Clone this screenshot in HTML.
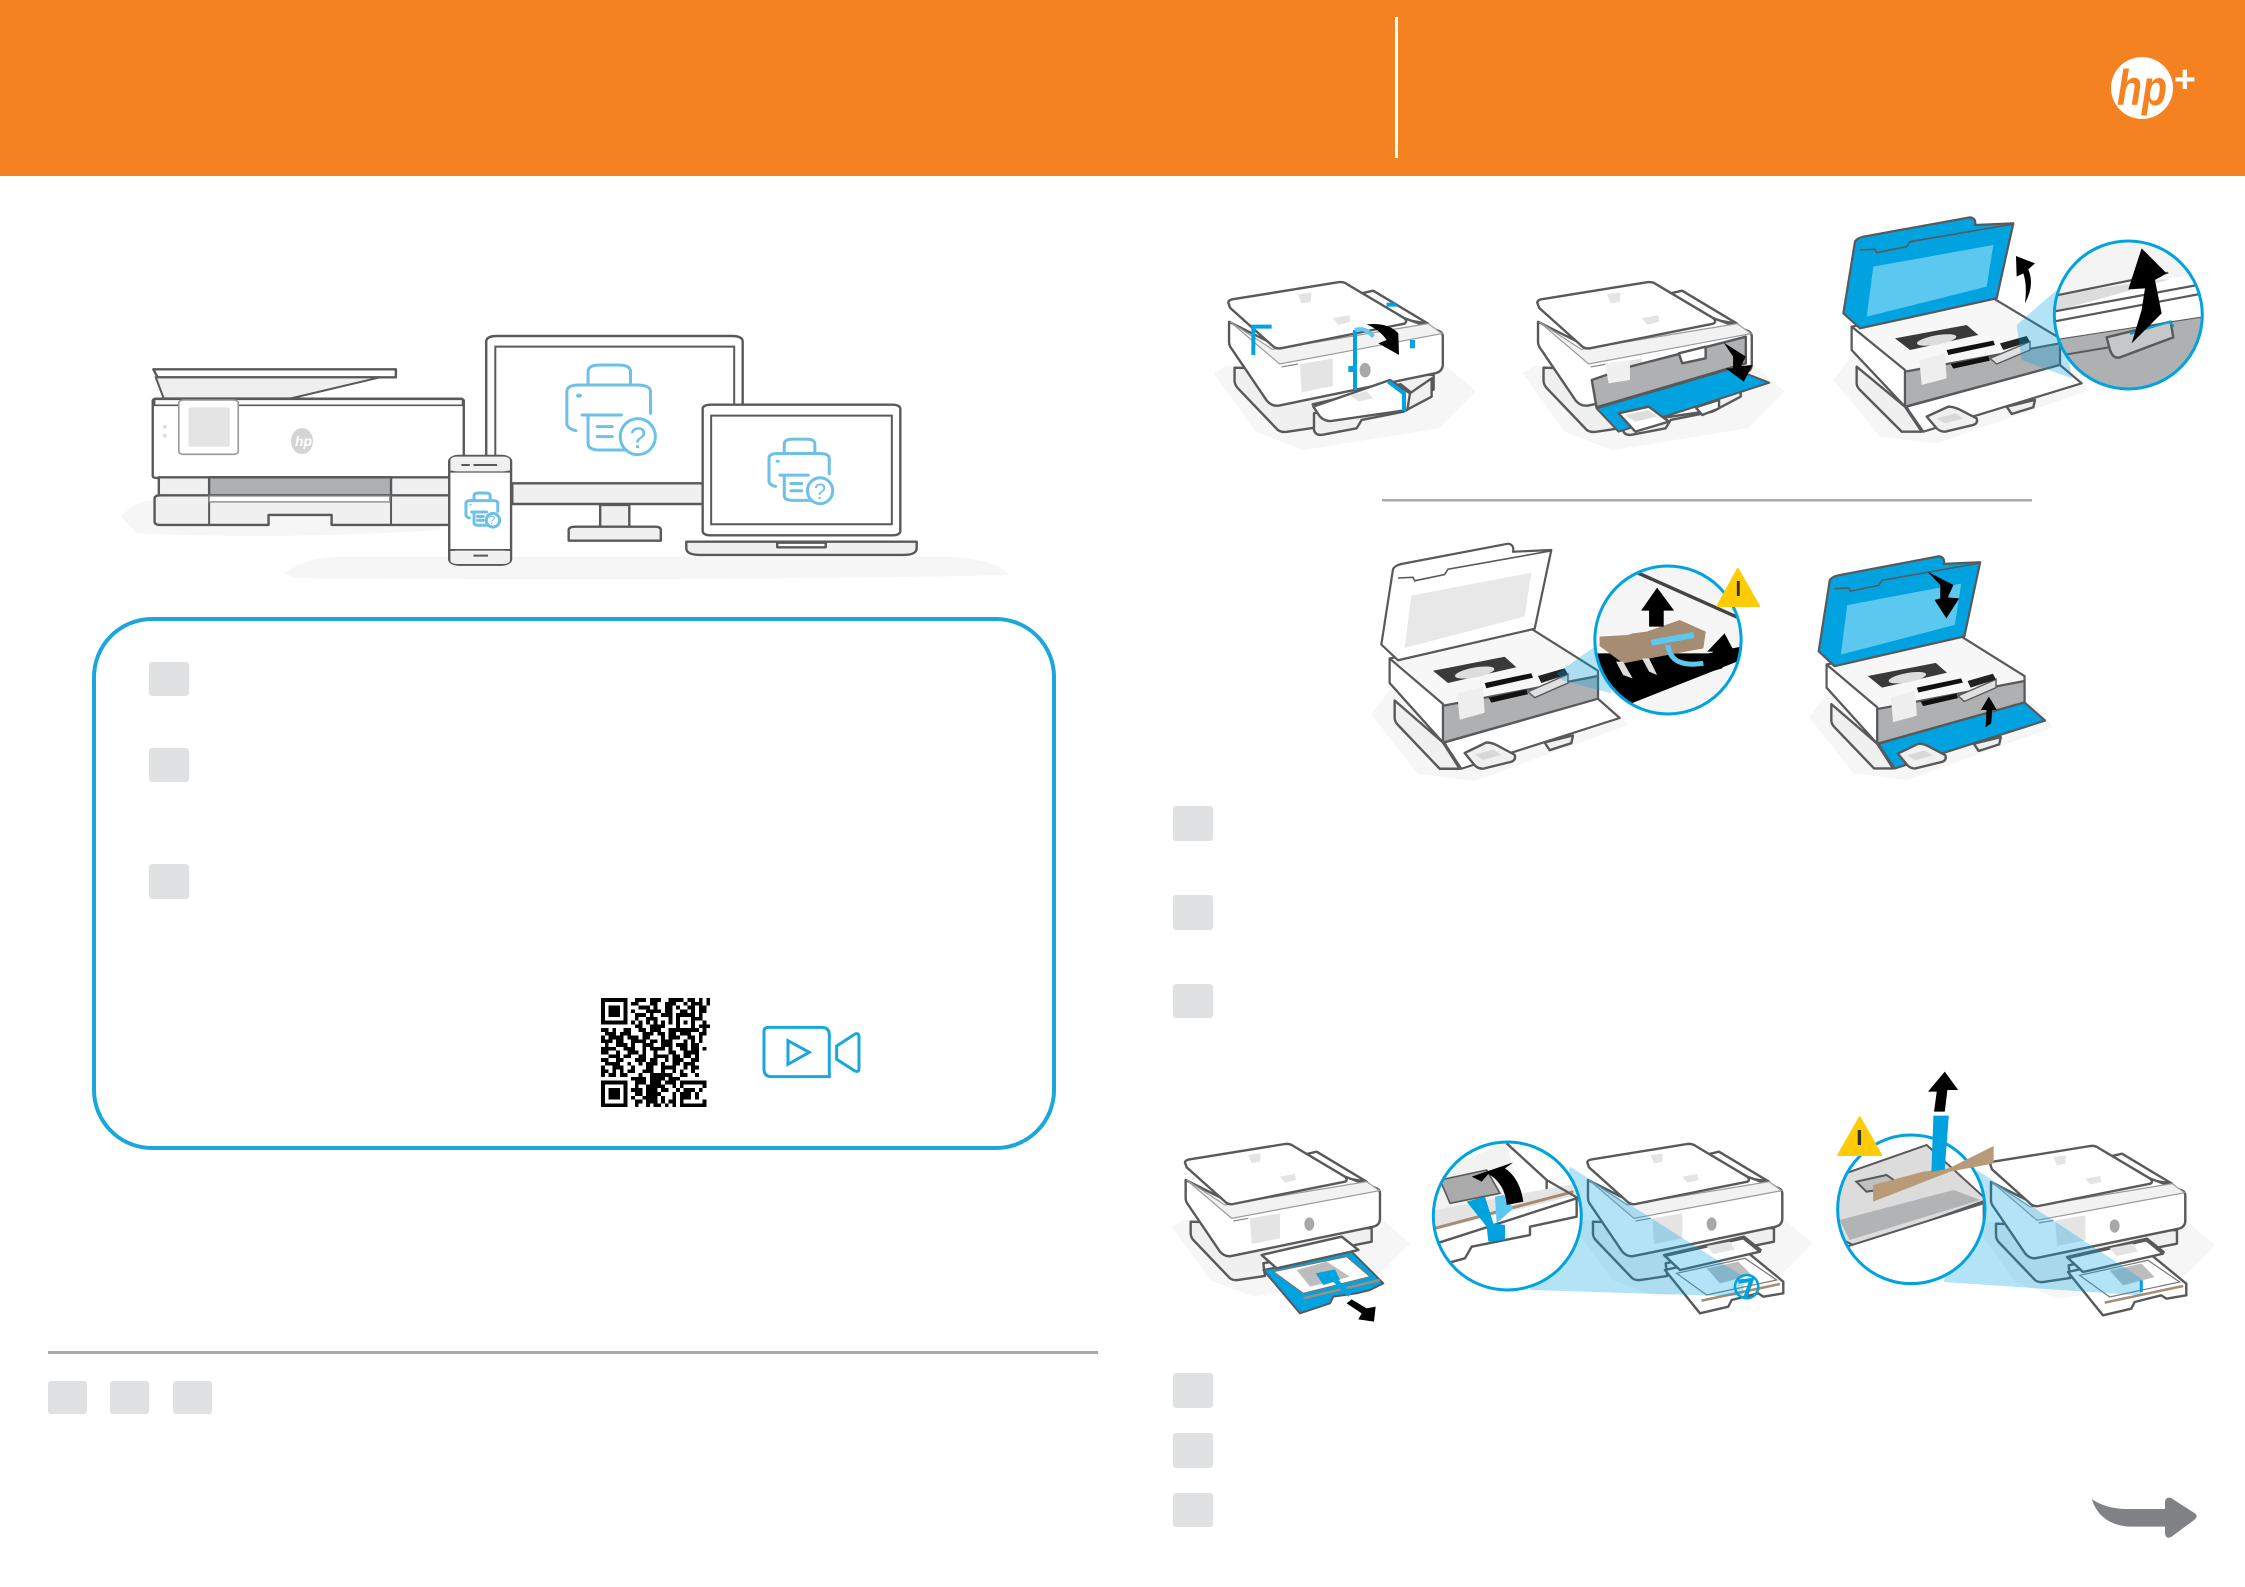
<!DOCTYPE html>
<html lang="en">
<head>
<meta charset="utf-8">
<title>Printer setup</title>
<style>
html,body{margin:0;padding:0;background:#fff;width:2245px;height:1587px;overflow:hidden}
svg{display:block}
svg *{vector-effect:non-scaling-stroke}
.k{fill:#fff;stroke:#58595b;stroke-width:2.4;stroke-linejoin:round}
.g{fill:#f0f0f0;stroke:#58595b;stroke-width:2.4;stroke-linejoin:round}
.d{fill:#aeb0b2;stroke:#58595b;stroke-width:2.4;stroke-linejoin:round}
.b{fill:#00a3e0;stroke:#58595b;stroke-width:2;stroke-linejoin:round}
.gl{fill:#5cc8f0;stroke:none}
.s{fill:#f6f6f6;stroke:none}
.m{fill:#e4e4e4;stroke:none}
.t{fill:none;stroke:#00a3e0;stroke-width:4}
.z{fill:#000;stroke:none}
.w{fill:#00a3e0;fill-opacity:.3;stroke:none}
.o{fill:none;stroke:#1ba7dd;stroke-width:3;}
.q{fill:none;stroke:#6dc1e8;stroke-width:3;stroke-linecap:round;stroke-linejoin:round}
.sq{fill:#dfe1e2}
.u{stroke:#58595b;stroke-width:2.2;stroke-linejoin:round}
</style>
</head>
<body>
<svg width="2245" height="1587" viewBox="0 0 2245 1587" xmlns="http://www.w3.org/2000/svg">
<defs>
  <clipPath id="c2"><circle cx="895" cy="315" r="222"/></clipPath>
  <clipPath id="c3"><ellipse cx="695" cy="360" rx="155" ry="222"/></clipPath>
  <clipPath id="c4a"><circle cx="232" cy="258" r="222"/></clipPath>
  <clipPath id="c4b"><ellipse cx="1122" cy="478" rx="110" ry="223"/></clipPath>

  <g id="pq">
    <path class="q" d="M805,250V215Q805,195 825,195H855Q875,195 875,215V250"/>
    <path class="q" d="M785,392Q770,385 770,370V275Q770,255 790,255H885Q908,255 908,275V340"/>
    <path class="q" d="M795,345H860M805,345V430Q805,450 825,450H868M820,380H845M820,410H845"/>
    <ellipse class="q" cx="887" cy="410" rx="29" ry="54"/>
    <ellipse cx="790" cy="287" rx="5" ry="6" fill="#6dc1e8"/>
  </g>

  <!-- closed printer, 3x coordinates -->
  <g id="c">
    <polygon class="s" points="5,290 40,270 620,255 720,340 620,440 250,500 120,450"/>
    <path class="g" d="M62,275V310Q62,320 70,330L180,445Q190,452 205,450L285,438L280,400L605,335V295L520,290Z"/>
    <polygon class="k" points="410,72 440,65 590,155 530,145"/>
    <path class="k" d="M47,150V205Q47,215 55,225L150,365Q165,382 185,378L610,290Q630,285 630,265V190Q630,180 620,175L525,140L190,222Z"/>
    <polygon fill="#f2f2f2" stroke="#9a9a9a" stroke-width="1.2" points="50,150 165,225 590,155 628,182 185,265"/>
    <polygon class="m" points="240,265 330,250 330,325 245,342"/>
    <path d="M190,273L235,265" stroke="#888" stroke-width="1.2" fill="none"/>
    <ellipse cx="418" cy="282" rx="15" ry="20" fill="#a8a8a8"/>
    <path class="k" d="M45,98Q45,90 60,88L345,42Q360,40 370,48L525,140Q535,150 525,155L190,222Q175,225 165,215L50,112Z"/>
    <polygon class="m" points="235,75 272,70 270,95 245,100"/>
    <polygon class="m" points="330,140 375,132 378,150 345,158"/>
    <polygon class="k" points="275,375 515,320 565,360 320,415"/>
    <polygon class="m" points="400,350 465,337 478,358 425,372"/>
  </g>

  <!-- closed printer with front tray, as in first step -->
  <g id="p1">
    <use href="#c" transform="translate(5.5,5.5) scale(1.1)"/>
    <path class="g" d="M312,445V495Q315,510 335,510L440,490L455,465L580,440L665,395V340L600,385Z"/>
    <path class="k" d="M310,425L540,345L600,385L592,435L365,468Q345,470 330,455Z"/>
    <polygon class="m" points="420,390 470,378 490,400 445,410"/>
  </g>

  <!-- open printer -->
  <g id="open">
    <polygon class="s" points="10,510 80,420 720,470 780,540 320,700 150,680"/>
    <path class="g" d="M80,470V520Q80,530 90,540L215,665L275,665L225,590Z"/>
    <polygon fill="#f7f7f7" class="u" points="65,350 490,265 690,385 690,465 225,590 65,420"/>
    <polygon fill="#fff" class="u" points="65,350 225,480 225,590 65,420"/>
    <polygon fill="#aeb0b2" class="u" points="225,485 690,400 690,465 225,590"/>
    <polygon fill="#eee" points="268,450 345,430 350,505 275,525"/>
    <polygon fill="#3a3a3a" points="195,385 410,345 445,375 240,420"/>
    <ellipse cx="320" cy="390" rx="60" ry="14" fill="#ddd" transform="rotate(-10 320 390)"/>
    <polygon fill="#111" points="350,420 490,392 495,405 355,435"/>
    <polygon fill="#111" points="362,462 475,438 480,452 370,476"/>
    <polygon fill="#e0e0e0" stroke="#58595b" stroke-width="1.4" points="480,445 600,395 600,420 500,462"/>
    <polygon fill="#222" points="510,400 590,378 600,395 520,420"/>
  </g>
  <polygon id="door" class="u" points="230,590 690,465 755,520 280,665 235,600"/>
  <g id="feet">
    <path class="g" d="M290,620L355,590Q370,590 385,597L440,625Q445,640 430,645L345,665Q330,665 320,655Z"/>
    <polygon fill="#d8d8d8" points="320,625 375,610 400,625 345,640"/>
    <polygon class="g" points="530,590 615,570 610,592 545,612"/>
  </g>
  <path id="lid" class="u" d="M40,310L75,95Q80,85 100,80L420,22Q440,25 435,45L550,40L500,265L90,355Z"/>
  <path id="lidline" fill="none" stroke="#58595b" stroke-width="1.6" d="M90,120L135,118L140,128L230,110L240,95L552,42"/>
  <polygon id="glass" points="130,170 490,105 470,230 110,320"/>

  <!-- pulled-out tray -->
  <g id="tray">
    <polygon class="k" points="705,420 950,365 1060,455 1060,490 1000,500 985,490 905,510 895,530 810,550"/>
    <polygon fill="#fff" stroke="#777" stroke-width="1.2" points="740,430 945,385 1040,450 830,495"/>
    <polygon fill="#bdbdbd" points="830,415 925,395 965,435 870,460"/>
    <path d="M815,512L1050,462" stroke="#a58c72" stroke-width="2.5" fill="none"/>
    <polygon class="k" points="705,378 940,325 990,365 750,420"/>
    <polygon class="m" points="830,348 900,335 915,358 850,372"/>
  </g>
</defs>

<!-- Header -->
<rect x="0" y="0" width="2245" height="176" fill="#f58220"/>
<rect x="1395" y="17" width="3" height="141" fill="#fff"/>
<circle cx="2142" cy="88" r="31" fill="#fff"/>
<text x="2117" y="105" font-family="Liberation Sans, sans-serif" font-size="50" font-weight="700" font-style="italic" fill="#f58220" textLength="50" lengthAdjust="spacingAndGlyphs">hp</text>
<text x="2173" y="92" font-family="Liberation Sans, sans-serif" font-size="38" font-weight="700" font-style="italic" fill="#fff">+</text>

<!-- Hero illustration -->
<g transform="translate(100,300) scale(.6063,.3333)">
  <path class="s" d="M35,650Q60,590 120,600H560V690Q300,720 60,700Z"/>
  <path class="s" d="M305,820Q340,770 400,770H1400Q1480,780 1500,825Q1000,845 320,835Z"/>
  <polygon class="k" points="88,208 488,208 488,232 95,232"/>
  <polygon fill="#efefef" stroke="#58595b" stroke-width="2" points="92,232 462,232 315,295 105,295"/>
  <rect class="k" x="87" y="296" width="513" height="238" rx="6"/>
  <rect x="90" y="298" width="508" height="18" fill="#fafafa" stroke="#58595b" stroke-width="1.6"/>
  <rect x="130" y="300" width="98" height="163" rx="8" fill="#fff" stroke="#999" stroke-width="1.6"/>
  <rect class="m" x="146" y="322" width="68" height="118" rx="4"/>
  <rect x="104" y="375" width="6" height="10" fill="#ddd"/>
  <rect x="104" y="402" width="6" height="10" fill="#ddd"/>
  <rect class="g" x="97" y="532" width="500" height="56"/>
  <rect class="d" x="180" y="532" width="300" height="58"/>
  <path class="g" d="M90,596Q90,586 100,586H600V675H382V645H278V675H100Q90,675 90,665Z"/>
  <path d="M180,586V675M480,586V675" stroke="#58595b" stroke-width="2" fill="none"/>
  <rect x="180" y="588" width="298" height="18" fill="#fff" stroke="#888" stroke-width="1.4"/>
  <!-- monitor -->
  <path class="k" d="M637,125Q637,108 655,108H1042Q1060,108 1060,125V612H680V470H637Z"/>
  <rect x="652" y="140" width="394" height="410" fill="#fff" stroke="#58595b" stroke-width="2"/>
  <rect class="g" x="680" y="550" width="315" height="62"/>
  <rect class="g" x="825" y="615" width="48" height="66"/>
  <path class="g" d="M773,690Q773,680 785,680H915Q925,680 925,690V722H773Z"/>
  <use href="#pq"/>
  <!-- laptop -->
  <rect class="k" x="994" y="314" width="326" height="392" rx="12"/>
  <rect x="1008" y="347" width="298" height="326" fill="#fff" stroke="#58595b" stroke-width="2"/>
  <path class="g" d="M967,725H1347V745Q1347,765 1325,765H990Q967,765 967,745Z"/>
  <rect class="k" x="1117" y="728" width="80" height="14"/>
  <use href="#pq" transform="translate(549,277) scale(.72)"/>
  <!-- phone -->
  <rect class="k" x="576" y="468" width="102" height="326" rx="16"/>
  <path d="M577,515H677M577,750H677" stroke="#58595b" stroke-width="2" fill="none"/>
  <rect x="578" y="470" width="98" height="44" rx="10" fill="#f0f0f0"/>
  <rect x="578" y="752" width="98" height="40" rx="10" fill="#f0f0f0"/>
  <path d="M596,495H610M616,495H655M616,767H640" stroke="#58595b" stroke-width="2" fill="none"/>
  <use href="#pq" transform="translate(311,505) scale(.38)"/>
</g>
<ellipse cx="302" cy="441" rx="11" ry="13" fill="#d4d4d4"/>
<text x="295" y="446" font-family="Liberation Sans, sans-serif" font-size="14" font-weight="700" font-style="italic" fill="#fff">hp</text>
<text x="638" y="448" text-anchor="middle" font-family="Liberation Sans, sans-serif" font-size="30" fill="#6dc1e8">?</text>
<text x="820" y="499" text-anchor="middle" font-family="Liberation Sans, sans-serif" font-size="22" fill="#6dc1e8">?</text>
<text x="492" y="524" text-anchor="middle" font-family="Liberation Sans, sans-serif" font-size="12" fill="#6dc1e8">?</text>

<!-- Blue rounded box -->
<rect x="94" y="619" width="960" height="529" rx="58" fill="#fff" stroke="#1ba7dd" stroke-width="4"/>
<rect class="sq" x="149" y="662" width="40" height="34" rx="3"/>
<rect class="sq" x="149" y="748" width="40" height="34" rx="3"/>
<rect class="sq" x="149" y="864" width="40" height="35" rx="3"/>

<!-- QR -->
<g transform="translate(601,998) scale(3.76)" shape-rendering="crispEdges">
<path style="vector-effect:none" fill="none" stroke="#000" stroke-width="1" d="
M0 .5h7m2 0h3m1 0h3m2 0h4m1 0h2m1 0h1m1 0h1
M0 1.5h1m5 0h1m1 0h2m3 0h2m2 0h3m2 0h1m1 0h3m1 0h1
M0 2.5h1m1 0h3m1 0h1m3 0h3m1 0h1m2 0h2m1 0h1m2 0h2m1 0h2
M0 3.5h1m1 0h3m1 0h1m1 0h1m3 0h4m1 0h2m2 0h2m1 0h1m1 0h2
M0 4.5h1m1 0h3m1 0h1m2 0h3m1 0h1m2 0h3m1 0h5m1 0h1
M0 5.5h1m5 0h1m2 0h1m2 0h3m3 0h1m2 0h1m1 0h1m1 0h2
M0 6.5h7m1 0h1m1 0h1m1 0h1m1 0h1m1 0h1m1 0h1m1 0h5m2 0h1
M9 7.5h2m2 0h4m3 0h1m2 0h1m2 0h3
M0 8.5h2m1 0h1m2 0h2m2 0h2m1 0h3m2 0h4m2 0h2m1 0h1
M1 9.5h3m1 0h3m3 0h3m1 0h2m1 0h2m1 0h3m2 0h2
M0 10.5h1m1 0h4m1 0h3m1 0h2m3 0h1m1 0h3m2 0h2m1 0h1
M0 11.5h3m1 0h2m2 0h4m1 0h2m1 0h3m3 0h1m1 0h1m1 0h1
M1 12.5h1m2 0h3m1 0h1m2 0h3m2 0h3m1 0h3m1 0h2
M0 13.5h4m2 0h3m2 0h1m1 0h4m1 0h1m2 0h2m1 0h2m1 0h1
M0 14.5h2m2 0h1m2 0h3m1 0h1m2 0h1m3 0h2m2 0h4
M2 15.5h3m1 0h2m2 0h2m2 0h4m1 0h2m1 0h2m1 0h1
M0 16.5h2m2 0h2m3 0h3m1 0h2m2 0h1m1 0h3m2 0h2
M1 17.5h4m2 0h1m2 0h1m1 0h3m1 0h1m2 0h2m1 0h3
M0 18.5h1m2 0h3m2 0h1m3 0h2m2 0h4m2 0h1m1 0h2
M0 19.5h2m1 0h1m1 0h1m1 0h2m2 0h3m2 0h1m2 0h1m1 0h1m2 0h1
M0 20.5h1m1 0h2m1 0h2m3 0h1m2 0h6m2 0h2m2 0h1
M8 21.5h4m1 0h4m1 0h3
M0 22.5h7m2 0h3m1 0h3m1 0h3m1 0h7
M0 23.5h1m5 0h1m2 0h1m2 0h5m2 0h1m1 0h1m5 0h1
M0 24.5h1m1 0h3m1 0h1m1 0h3m1 0h3m1 0h2m2 0h1m1 0h3m1 0h1
M0 25.5h1m1 0h3m1 0h1m2 0h2m1 0h4m3 0h1m1 0h3m1 0h1
M0 26.5h1m1 0h3m1 0h1m1 0h1m2 0h4m1 0h1m2 0h1m1 0h3m1 0h1
M0 27.5h1m5 0h1m2 0h2m1 0h3m1 0h1m1 0h2m1 0h1m5 0h1
M0 28.5h7m2 0h1m2 0h1m1 0h2m1 0h1m1 0h1m1 0h7
"/>
<rect x="20" y="4" width="5" height="5" fill="#000"/>
<rect x="21" y="5" width="3" height="3" fill="#fff"/>
<rect x="22" y="6" width="1" height="1" fill="#000"/>
</g>

<!-- Video icon -->
<g transform="translate(560,970) scale(.3333)">
  <path class="o" d="M625,172H785Q808,172 808,195V320H635Q612,320 612,297V185Q612,172 625,172Z"/>
  <path class="o" d="M684,212L748,247L684,283Z"/>
  <path class="o" d="M830,228L885,192Q897,188 897,200V295Q897,308 885,303L830,268Z"/>
</g>

<!-- Bottom-left rule and chips -->
<rect x="48" y="1351" width="1050" height="3" fill="#a7a9ac"/>
<rect class="sq" x="48" y="1381" width="39" height="33" rx="3"/>
<rect class="sq" x="110" y="1381" width="39" height="33" rx="3"/>
<rect class="sq" x="173" y="1381" width="39" height="33" rx="3"/>

<!-- Step 1 printer -->
<g transform="translate(1210,265) scale(.3333)">
  <use href="#p1"/>
  <path class="t" d="M130,270V185H185M435,375V195"/>
  <path d="M435,195Q465,185 490,215" fill="none" stroke="#5cc8f0" stroke-width="4"/>
  <rect x="600" y="225" width="15" height="25" fill="#00a3e0"/>
  <rect x="530" y="113" width="30" height="12" fill="#00a3e0"/>
  <rect x="415" y="303" width="20" height="18" fill="#00a3e0"/>
  <path class="t" d="M535,350L582,385V438"/>
  <path class="z" d="M470,178Q535,172 565,205L567,270L505,235L530,225Q510,195 470,178Z"/>
  <!-- Step 2 printer base -->
  <use href="#p1" x="927"/>
</g>

<!-- Step 2 overlay (stretched crop coordinates) -->
<g transform="translate(1180,200) scale(.6696,.3333)">
  <polygon class="d" points="615,540 672,500 845,410 845,490 622,622"/>
  <polygon fill="#f0f0f0" points="635,490 672,480 672,540 640,550"/>
  <polygon class="k" points="745,460 785,440 785,475 750,490"/>
  <polygon class="b" points="622,625 825,505 880,548 655,695"/>
  <polygon class="k" points="655,640 700,620 730,665 680,695"/>
  <polygon fill="#ddd" points="665,645 700,630 712,650 680,665"/>
  <polygon class="k" points="770,622 805,600 805,625 780,645"/>
  <polygon class="z" points="812,428 845,470 838,498 855,495 842,545 815,505 826,505 826,470"/>
</g>

<!-- Step 3 printer -->
<g transform="translate(1830,210) scale(.3333)">
  <use href="#open"/>
  <use href="#door" fill="#fff"/>
  <use href="#feet"/>
  <use href="#lid" fill="#00a3e0"/>
  <use href="#lidline"/>
  <use href="#glass" fill="#5cc8f0"/>
  <path class="z" d="M558,138L615,160L595,178Q615,225 585,280Q592,225 580,190L560,200Z"/>
  <polygon class="w" points="560,345 680,240 725,505 575,450"/>
  <circle cx="895" cy="315" r="222" fill="#fff"/>
  <g clip-path="url(#c2)">
    <polygon fill="#dcdcdc" points="670,262 890,205 1020,208 670,305"/>
    <polygon fill="#f4f4f4" points="670,100 1120,100 1120,190 670,255"/>
    <path d="M670,258L1015,188M670,335L1120,250M670,392L1120,322M670,305L1120,222" stroke="#58595b" stroke-width="2.2" fill="none"/>
    <polygon fill="#aeb0b2" points="670,392 1120,322 1120,600 670,600"/>
    <path d="M670,440L850,410" stroke="#58595b" stroke-width="2" fill="none"/>
    <path class="d" d="M830,382L1022,335L1030,382L870,442Q850,448 840,420Z" style="fill:#c6c7c8"/>
    <path d="M900,372L1020,335L1032,350" fill="none" stroke="#00a3e0" stroke-width="2"/>
  </g>
  <polygon class="z" points="935,115 1010,190 975,210 995,310 905,400 935,300 945,235 895,238"/>
  <circle cx="895" cy="315" r="222" fill="none" stroke="#00a3e0" stroke-width="3"/>
</g>

<!-- Divider -->
<rect x="1382" y="499" width="650" height="2.5" fill="#a7a9ac"/>

<!-- Second row printers -->
<g transform="translate(1368,536) scale(.3333,.35)">
  <use href="#open"/>
  <use href="#door" fill="#fff"/>
  <use href="#feet"/>
  <use href="#lid" fill="#fff"/>
  <use href="#lidline"/>
  <use href="#glass" fill="#e8e8e8"/>
</g>
<g transform="translate(1806,549) scale(.3167,.33)">
  <use href="#open"/>
  <use href="#door" fill="#00a3e0"/>
  <use href="#feet"/>
  <use href="#lid" fill="#00a3e0"/>
  <use href="#lidline"/>
  <use href="#glass" fill="#5cc8f0"/>
</g>

<!-- Second row overlays -->
<g transform="translate(1340,520) scale(.4719,.3333)">
  <polygon class="w" points="460,460 560,360 575,520 470,480"/>
  <ellipse cx="695" cy="360" rx="155" ry="222" fill="#f5f5f5"/>
  <g clip-path="url(#c3)">
    <polygon fill="#000" points="540,400 850,370 850,420 600,560 540,470"/>
    <polygon fill="#f5f5f5" points="540,300 850,300 850,380 780,400 540,400"/>
    <path d="M630,158L855,300" stroke="#444" stroke-width="3.5" fill="none"/>
    <polygon fill="#a58c72" points="550,350 610,345 620,340 650,335 720,300 775,335 770,385 600,430 550,378"/>
    <polygon fill="#ddd" points="585,425 600,425 620,475 600,465"/>
    <polygon fill="#ddd" points="640,415 655,415 672,465 655,455"/>
  </g>
  <path d="M660,368L750,345" stroke="#5cc8f0" stroke-width="6" fill="none"/>
  <path d="M695,375Q700,445 770,430" stroke="#5cc8f0" stroke-width="5" fill="none"/>
  <polygon class="z" points="672,203 708,272 686,272 686,320 655,320 655,272 638,272"/>
  <polygon class="z" points="815,340 838,402 820,402 810,445 772,460 790,425 790,395 778,395"/>
  <ellipse cx="695" cy="360" rx="155" ry="222" fill="none" stroke="#00a3e0" stroke-width="3"/>
  <polygon fill="#ffcb05" stroke="#ffcb05" stroke-width="2" stroke-linejoin="round" points="843,147 888,258 800,258"/>
  <rect x="841" y="183" width="6" height="45" fill="#333"/>
  <polygon class="z" points="1245,155 1300,195 1288,232 1312,235 1285,295 1260,240 1272,235 1272,195"/>
  <polygon class="z" points="1375,530 1392,570 1382,570 1380,610 1368,622 1370,570 1358,570"/>
</g>

<!-- Square chips, right -->
<rect class="sq" x="1173" y="806" width="40" height="35" rx="3"/>
<rect class="sq" x="1173" y="895" width="40" height="35" rx="3"/>
<rect class="sq" x="1173" y="984" width="40" height="34" rx="3"/>

<!-- Bottom row: printer 1 -->
<g transform="translate(1170,1130) scale(.3333)">
  <use href="#c"/>
  <path class="b" d="M280,420L545,365L640,460L600,480L560,490L490,500L480,520L390,550Z"/>
  <polygon fill="#fff" stroke="#777" stroke-width="1.2" points="310,425 530,380 600,440 400,490"/>
  <polygon fill="#bdbdbd" points="380,420 470,395 540,440 420,470"/>
  <polygon class="k" points="275,375 515,320 565,360 320,415"/>
  <path d="M400,505L630,450" stroke="#a58c72" stroke-width="2.5" fill="none"/>
  <polygon fill="#00a3e0" points="437,430 495,418 510,450 460,465"/>
  <path d="M495,450L540,495" stroke="#00a3e0" stroke-width="5" fill="none"/>
  <polygon class="z" points="530,520 545,508 590,535 617,530 612,575 565,568 575,550"/>
</g>

<!-- Bottom row: printer 2 -->
<g transform="translate(1430,1130) scale(.3333)">
  <use href="#c" x="427"/>
  <use href="#tray"/>
  <polygon class="w" points="420,110 940,440 940,500 300,480"/>
  <circle cx="950" cy="470" r="35" fill="none" stroke="#00a3e0" stroke-width="2.5"/>
  <path d="M925,455L965,450L945,505" fill="none" stroke="#00a3e0" stroke-width="4"/>
  <circle cx="232" cy="258" r="222" fill="#fff"/>
  <g clip-path="url(#c4a)">
    <polygon fill="#f2f2f2" points="10,130 230,35 350,150 275,215 20,280"/>
    <polygon fill="#aaa" stroke="#58595b" stroke-width="1.6" points="30,150 170,120 210,190 60,220"/>
    <path class="k" d="M230,40L350,150V185L275,220"/>
    <polygon fill="#e4e4e4" points="15,240 440,160 440,195 15,300"/>
    <path class="k" d="M5,345L440,205V260L300,290V315L125,350L105,385L50,400L5,400Z"/>
    <path d="M15,295L430,185" stroke="#a58c72" stroke-width="3" fill="none"/>
    <path d="M350,150L445,205" stroke="#58595b" stroke-width="2.2" fill="none"/>
  </g>
  <polygon fill="#00a3e0" points="110,215 165,200 190,280 225,285 225,330 175,335 170,290"/>
  <polygon fill="#5cc8f0" points="195,200 222,195 250,235 200,280"/>
  <path class="z" d="M125,140L250,97L225,115Q270,145 280,215L230,225Q225,160 175,132L155,155Z"/>
  <circle cx="232" cy="258" r="222" fill="none" stroke="#00a3e0" stroke-width="3"/>
</g>

<!-- Bottom row: printer 3 -->
<g transform="translate(1833,1132) scale(.3333)">
  <use href="#c" x="427"/>
  <use href="#tray"/>
  <polygon class="w" points="432,114 925,440 925,490 332,450"/>
  <path d="M925,445V480" stroke="#00a3e0" stroke-width="3" fill="none"/>
</g>
<g transform="translate(1160,1050) scale(.6696,.3333)">
  <ellipse cx="1122" cy="478" rx="110" ry="223" fill="#fff"/>
  <g clip-path="url(#c4b)">
    <polygon fill="#dcdcdc" stroke="#58595b" stroke-width="2" points="1010,380 1145,285 1235,450 1040,590 1010,560"/>
    <polygon fill="#fff" stroke="#58595b" stroke-width="2" points="1010,600 1230,460 1230,700 1010,700"/>
    <polygon fill="#b1b3b5" points="1015,510 1185,420 1225,450 1030,570"/>
    <polygon fill="#c0c0c0" stroke="#58595b" stroke-width="2" points="1040,395 1085,375 1110,410 1055,425"/>
  </g>
  <ellipse cx="1122" cy="478" rx="110" ry="223" fill="none" stroke="#00a3e0" stroke-width="3"/>
  <polygon fill="#b89a78" points="1065,405 1140,365 1178,355 1245,288 1245,340 1180,365 1065,455"/>
  <polygon fill="#00a3e0" points="1155,197 1178,197 1172,358 1152,365"/>
  <polygon class="z" points="1172,65 1192,120 1176,120 1172,185 1156,185 1160,125 1147,125"/>
  <polygon fill="#ffcb05" stroke="#ffcb05" stroke-width="2" stroke-linejoin="round" points="1045,202 1077,315 1013,315"/>
  <rect x="1042" y="240" width="5" height="45" fill="#333"/>
</g>

<!-- Bottom chips -->
<rect class="sq" x="1173" y="1373" width="40" height="35" rx="3"/>
<rect class="sq" x="1173" y="1433" width="40" height="35" rx="3"/>
<rect class="sq" x="1173" y="1493" width="40" height="34" rx="3"/>

<!-- Next arrow -->
<g transform="translate(2060,1470) scale(.3333)">
  <path d="M95,87Q140,118 205,117H315V95Q318,78 335,85L405,130Q415,138 405,148L335,200Q318,210 315,190V170H210Q120,165 95,87Z" fill="#808285"/>
</g>
</svg>
</body>
</html>
